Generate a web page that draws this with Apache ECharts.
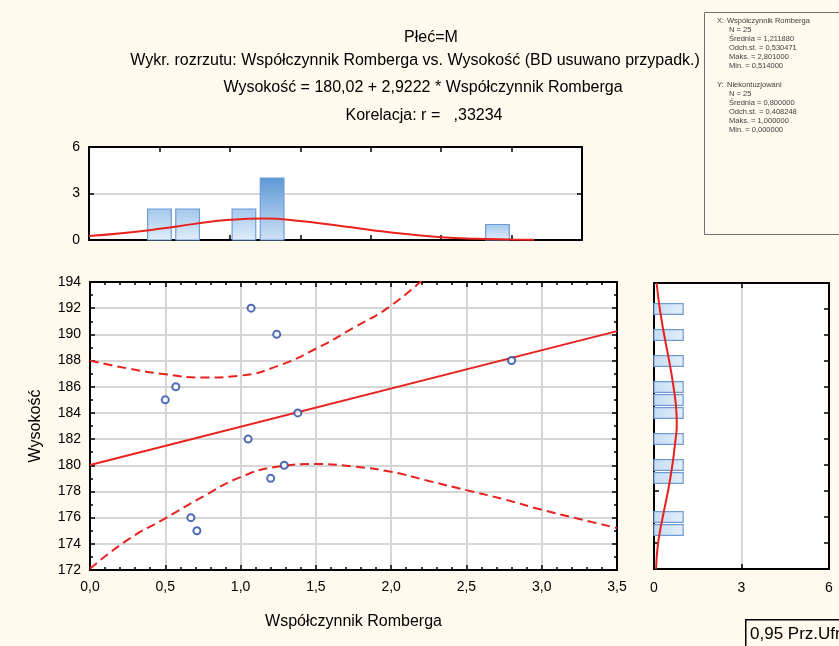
<!DOCTYPE html>
<html>
<head>
<meta charset="utf-8">
<script src="https://cdn.jsdelivr.net/npm/echarts@6/dist/echarts.min.js"></script>
<style>
  html, body { margin: 0; padding: 0; background: #FFF9EE; }
  #chart { width: 839px; height: 646px; }
</style>
</head>
<body>
<div id="chart"></div>
<script>
// scatter points: Współczynnik Romberga vs Wysokość
const romberg = [0.50, 0.57, 0.67, 0.71, 1.05, 1.07, 1.20, 1.24, 1.29, 1.38, 2.80];
const wysokosc = [185, 186, 176, 175, 182, 192, 179, 190, 180, 184, 188];

// regression  Wysokość = 180,02 + 2,9222 * x
const intercept = 180.02;
const slope = 2.9222;
const lineX = [0, 3.5];

// 0,95 confidence band
const bandX = [0, 0.25, 0.5, 0.75, 1.0, 1.25, 1.5, 1.75, 2.0, 2.25, 2.5, 2.75, 3.0, 3.25, 3.5];
const bandUpper = [188.0, 187.4, 186.95, 186.7, 186.85, 187.6, 188.9, 190.5, 192.2, 194.6];
const bandLower = [172.1, 174.3, 175.95, 177.6, 179.1, 179.9, 180.1, 179.9, 179.5, 178.8, 178.1, 177.4, 176.6, 175.9, 175.2];

// top histogram (x variable)
const xBinCenters = [0.5, 0.7, 1.1, 1.3, 2.9];
const xBinCounts = [2, 2, 2, 4, 1];
const xNormX = [0, 0.25, 0.5, 0.75, 1.0, 1.25, 1.5, 1.75, 2.0, 2.25, 2.5, 2.75, 3.0, 3.16];
const xNormY = [0.26, 0.45, 0.72, 1.04, 1.30, 1.39, 1.22, 0.95, 0.65, 0.38, 0.18, 0.08, 0.03, 0.01];

// right histogram (y variable)
const yBinCenters = [192, 190, 188, 186, 185, 184, 182, 180, 179, 176, 175];
const yBinCounts = [1, 1, 1, 1, 1, 1, 1, 1, 1, 1, 1];
const yNormY = [172, 174, 176, 178, 180, 182, 183, 184, 186, 188, 190, 192, 194];
const yNormX = [0.07, 0.14, 0.30, 0.48, 0.63, 0.74, 0.78, 0.77, 0.67, 0.52, 0.35, 0.20, 0.09];

const titleLines = [
  'Płeć=M',
  'Wykr. rozrzutu: Współczynnik Romberga vs. Wysokość (BD usuwano przypadk.)',
  'Wysokość = 180,02 + 2,9222 * Współczynnik Romberga',
  'Korelacja: r =   ,33234'
];

const statsX = ['Współczynnik Romberga', 'N = 25', 'Średnia = 1,211880', 'Odch.st. = 0,530471', 'Maks. = 2,801000', 'Min. = 0,514000'];
const statsY = ['Niekontuzjowani', 'N = 25', 'Średnia = 0,800000', 'Odch.st. = 0,408248', 'Maks. = 1,000000', 'Min. = 0,000000'];

const FONT = 'Liberation Sans, Arial, sans-serif';
const RED = '#e8221e';
const chart = echarts.init(document.getElementById('chart'));

function comma(v, d) {
  return v.toFixed(d).replace('.', ',');
}

function axisBase(extra) {
  return Object.assign({
    axisLine: { show: true, onZero: false, lineStyle: { color: '#000', width: 2 } },
    axisTick: { show: true, inside: true, length: 5, lineStyle: { color: '#000', width: 1.5 } },
    axisLabel: { show: false },
    splitLine: { show: false }
  }, extra);
}

const labelStyle = { color: '#000', fontSize: 14, fontFamily: FONT };
const nameStyle = { color: '#000', fontSize: 16, fontFamily: FONT };
const gridLine = { show: true, lineStyle: { color: '#d6d6d6', width: 2 } };

// title lines, centres measured on the picture
const titleX = [431, 415, 423, 424];
const titleY = [38, 61, 88, 116];
const titleText = titleLines.map(function(t, i) {
  return {
    type: 'text', x: titleX[i], y: titleY[i],
    style: { text: t, fill: '#000', font: '16px ' + FONT, align: 'center', verticalAlign: 'middle' }
  };
});

// statistics box text
const statsText = [];
[[statsX, 'X:', 21], [statsY, 'Y:', 85]].forEach(function(block) {
  block[0].forEach(function(s, i) {
    if (i === 0) {
      statsText.push({
        type: 'text', x: 717, y: block[2],
        style: { text: block[1], fill: '#404040', font: '7.5px ' + FONT, verticalAlign: 'middle' }
      });
    }
    statsText.push({
      type: 'text', x: i === 0 ? 727 : 729, y: block[2] + i * 8.9,
      style: { text: s, fill: '#404040', font: '7.5px ' + FONT, verticalAlign: 'middle' }
    });
  });
});

chart.setOption({
  backgroundColor: '#FFF9EE',
  animation: false,
  grid: [
    { left: 90, top: 282, width: 527, height: 288, show: true, backgroundColor: '#fff', borderWidth: 0 },
    { left: 89, top: 147, width: 493, height: 93, show: true, backgroundColor: '#fff', borderWidth: 0 },
    { left: 654, top: 283, width: 175, height: 286, show: true, backgroundColor: '#fff', borderWidth: 0 }
  ],
  xAxis: [
    axisBase({
      gridIndex: 0, type: 'value', min: 0, max: 3.5, interval: 0.5, position: 'bottom',
      name: 'Współczynnik Romberga', nameLocation: 'middle', nameGap: 44,
      nameTextStyle: nameStyle,
      axisLabel: Object.assign({ show: true, margin: 10, formatter: function(v) { return comma(v, 1); } }, labelStyle),
      minorTick: { show: true, splitNumber: 5, length: 3, lineStyle: { color: '#000', width: 1.5 } },
      splitLine: gridLine
    }),
    axisBase({
      gridIndex: 0, type: 'value', min: 0, max: 3.5, interval: 0.5, position: 'top',
      minorTick: { show: true, splitNumber: 5, length: 3, lineStyle: { color: '#000', width: 1.5 } }
    }),
    axisBase({ gridIndex: 1, type: 'value', min: 0, max: 3.5, interval: 0.5, position: 'bottom' }),
    axisBase({ gridIndex: 1, type: 'value', min: 0, max: 3.5, interval: 0.5, position: 'top' }),
    axisBase({
      gridIndex: 2, type: 'value', min: 0, max: 6, interval: 3, position: 'bottom',
      axisLabel: Object.assign({ show: true, margin: 12 }, labelStyle),
      splitLine: gridLine
    }),
    axisBase({ gridIndex: 2, type: 'value', min: 0, max: 6, interval: 3, position: 'top' })
  ],
  yAxis: [
    axisBase({
      gridIndex: 0, type: 'value', min: 172, max: 194, interval: 2, position: 'left',
      name: 'Wysokość', nameLocation: 'middle', nameGap: 46, nameRotate: 90,
      nameTextStyle: nameStyle,
      axisLabel: Object.assign({ show: true, margin: 9 }, labelStyle),
      minorTick: { show: true, splitNumber: 2, length: 3, lineStyle: { color: '#000', width: 1.5 } },
      splitLine: gridLine
    }),
    axisBase({
      gridIndex: 0, type: 'value', min: 172, max: 194, interval: 2, position: 'right',
      minorTick: { show: true, splitNumber: 2, length: 3, lineStyle: { color: '#000', width: 1.5 } }
    }),
    axisBase({
      gridIndex: 1, type: 'value', min: 0, max: 6, interval: 3, position: 'left',
      axisLabel: Object.assign({ show: true, margin: 9 }, labelStyle),
      splitLine: gridLine
    }),
    axisBase({ gridIndex: 1, type: 'value', min: 0, max: 6, interval: 3, position: 'right' }),
    axisBase({ gridIndex: 2, type: 'value', min: 172, max: 194, interval: 2, position: 'left' }),
    axisBase({ gridIndex: 2, type: 'value', min: 172, max: 194, interval: 2, position: 'right' })
  ],
  series: [
    {
      type: 'line',
      xAxisIndex: 0, yAxisIndex: 0,
      data: lineX.map(function(x) { return [x, intercept + slope * x]; }),
      symbol: 'none',
      lineStyle: { color: RED, width: 2 },
      z: 3
    },
    {
      type: 'line',
      xAxisIndex: 0, yAxisIndex: 0,
      data: bandUpper.map(function(v, i) { return [bandX[i], v]; }),
      smooth: true, symbol: 'none', clip: true,
      lineStyle: { color: RED, width: 2, type: [9, 5] },
      z: 3
    },
    {
      type: 'line',
      xAxisIndex: 0, yAxisIndex: 0,
      data: bandLower.map(function(v, i) { return [bandX[i], v]; }),
      smooth: true, symbol: 'none', clip: true,
      lineStyle: { color: RED, width: 2, type: [9, 5] },
      z: 3
    },
    {
      type: 'scatter',
      xAxisIndex: 0, yAxisIndex: 0,
      data: romberg.map(function(x, i) { return [x, wysokosc[i]]; }),
      symbol: 'circle', symbolSize: 7,
      itemStyle: { color: '#fff', borderColor: '#2447a8', borderWidth: 2 },
      z: 4
    },
    {
      // top histogram bars
      type: 'custom',
      xAxisIndex: 2, yAxisIndex: 2,
      encode: { x: 0, y: 1 },
      data: xBinCenters.map(function(c, i) { return [c, xBinCounts[i]]; }),
      renderItem: function(params, api) {
        const c = api.value(0), n = api.value(1);
        const p0 = api.coord([c - 0.084, n]);
        const p1 = api.coord([c + 0.084, 0]);
        const top = n === Math.max.apply(null, xBinCounts);
        return {
          type: 'rect',
          shape: { x: p0[0], y: p0[1], width: p1[0] - p0[0], height: p1[1] - p0[1] },
          style: {
            fill: new echarts.graphic.LinearGradient(0, 0, 0, 1, [
              { offset: 0, color: top ? '#5d98d6' : '#a3c7ec' },
              { offset: 1, color: top ? '#cfe2f6' : '#e1eefa' }
            ]),
            stroke: '#6f9bd3', lineWidth: 1.2
          }
        };
      },
      z: 2
    },
    {
      type: 'line',
      xAxisIndex: 2, yAxisIndex: 2,
      data: xNormX.map(function(x, i) { return [x, xNormY[i]]; }),
      smooth: true, symbol: 'none',
      lineStyle: { color: RED, width: 2 },
      z: 3
    },
    {
      // right histogram bars
      type: 'custom',
      xAxisIndex: 4, yAxisIndex: 4,
      encode: { x: 0, y: 1 },
      data: yBinCenters.map(function(c, i) { return [yBinCounts[i], c]; }),
      renderItem: function(params, api) {
        const n = api.value(0), c = api.value(1);
        const p0 = api.coord([0, c + 0.41]);
        const p1 = api.coord([n, c - 0.41]);
        return {
          type: 'rect',
          shape: { x: p0[0], y: p0[1], width: p1[0] - p0[0], height: p1[1] - p0[1] },
          style: {
            fill: new echarts.graphic.LinearGradient(0, 0, 1, 0, [
              { offset: 0, color: '#c6ddf4' },
              { offset: 1, color: '#e3eefa' }
            ]),
            stroke: '#6f9bd3', lineWidth: 1.2
          }
        };
      },
      z: 2
    },
    {
      type: 'line',
      xAxisIndex: 4, yAxisIndex: 4,
      data: yNormY.map(function(y, i) { return [yNormX[i], y]; }),
      smooth: true, symbol: 'none',
      lineStyle: { color: RED, width: 2 },
      z: 3
    }
  ],
  graphic: [
    {
      type: 'rect',
      left: 702, top: 10,
      shape: { width: 150, height: 222 },
      style: { fill: 'none', stroke: '#707070', lineWidth: 1 }
    },
    {
      type: 'rect',
      left: 745, top: 619,
      shape: { width: 110, height: 40 },
      style: { fill: '#FFF9EE', stroke: '#000', lineWidth: 1.5 }
    },
    {
      type: 'text',
      x: 750, y: 634,
      style: { text: '0,95 Prz.Ufn.', fill: '#000', font: '17px ' + FONT, verticalAlign: 'middle' }
    }
  ].concat(titleText, statsText)
});
</script>
</body>
</html>
